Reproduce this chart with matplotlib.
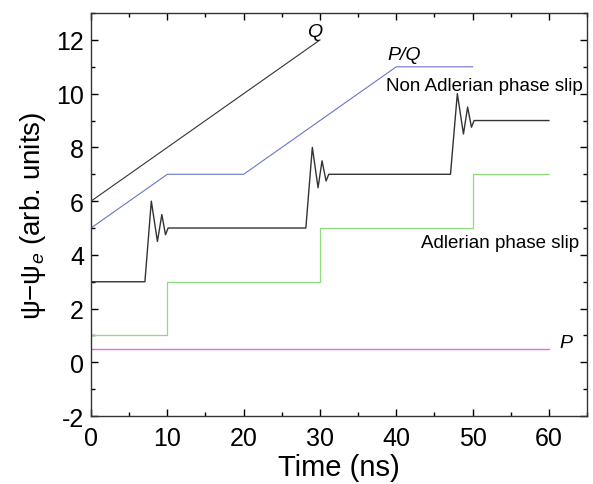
import matplotlib
matplotlib.use("Agg")
import matplotlib.pyplot as plt
from matplotlib.ticker import MultipleLocator

plt.rcParams['font.family'] = ['Liberation Sans', 'DejaVu Sans']
plt.rcParams['mathtext.fontset'] = 'custom'
plt.rcParams['mathtext.rm'] = 'Liberation Sans'
plt.rcParams['mathtext.it'] = 'Liberation Sans:italic'
plt.rcParams['axes.unicode_minus'] = False

# Q line
q_t = [0, 30]
q_v = [6, 12]
# P/Q line
pq_t = [0, 10, 20, 40, 50]
pq_v = [5, 7, 7, 11, 11]
# Non-Adlerian phase slip (black oscillating)
na_t = [0, 7.06, 7.9, 8.7, 9.28, 9.76, 10.1,
        28.15, 29.0, 29.75, 30.27, 30.8, 31.15,
        47.1, 48.0, 48.8, 49.35, 49.85, 50.2, 60]
na_v = [3, 3, 6, 4.5, 5.5, 4.75, 5,
        5, 8, 6.5, 7.5, 6.75, 7,
        7, 10, 8.5, 9.5, 8.75, 9, 9]
# Adlerian phase slip (green steps)
ad_t = [0, 10, 10, 30, 30, 50, 50, 60]
ad_v = [1, 1, 3, 3, 5, 5, 7, 7]
# P line
p_t = [0, 60]
p_v = [0.5, 0.5]

fig = plt.figure(figsize=(5.93, 4.85), dpi=100)
ax = fig.add_axes([0.1535, 0.140, 0.8365, 0.831])

ax.plot(q_t, q_v, color='#333333', lw=0.8)
ax.plot(pq_t, pq_v, color='#6a76c8', lw=0.8)
ax.plot(na_t, na_v, color='#333333', lw=1.0)
ax.plot(ad_t, ad_v, color='#8fdc80', lw=0.9)
ax.plot(p_t, p_v, color='#e070d8', lw=1.0)

ax.text(29.3, 12.3, 'Q', fontsize=14, style='italic', ha='center', va='center')
ax.text(41.0, 11.45, 'P/Q', fontsize=14, style='italic', ha='center', va='center')
ax.text(51.6, 10.3, 'Non Adlerian phase slip', fontsize=13.5, ha='center', va='center')
ax.text(53.6, 4.47, 'Adlerian phase slip', fontsize=13.5, ha='center', va='center')
ax.text(62.2, 0.75, 'P', fontsize=14, style='italic', ha='center', va='center')

ax.set_xlim(0, 65)
ax.set_ylim(-2, 13)
ax.xaxis.set_major_locator(MultipleLocator(10))
ax.xaxis.set_minor_locator(MultipleLocator(5))
ax.yaxis.set_major_locator(MultipleLocator(2))
ax.yaxis.set_minor_locator(MultipleLocator(1))
ax.tick_params(which='both', direction='in', top=True, right=True, width=1.0)
ax.tick_params(which='major', length=5, labelsize=18)
ax.tick_params(axis='x', which='major', pad=7)
ax.tick_params(axis='y', which='major', pad=5)
ax.tick_params(which='minor', length=3)
for s in ax.spines.values():
    s.set_linewidth(1.0)
    s.set_color('#333333')

ax.set_xlabel('Time (ns)', fontsize=21, labelpad=2)
ax.set_ylabel('ψ−ψ$_e$ (arb. units)', fontsize=20, labelpad=6)

fig.savefig('out.png', dpi=100)
